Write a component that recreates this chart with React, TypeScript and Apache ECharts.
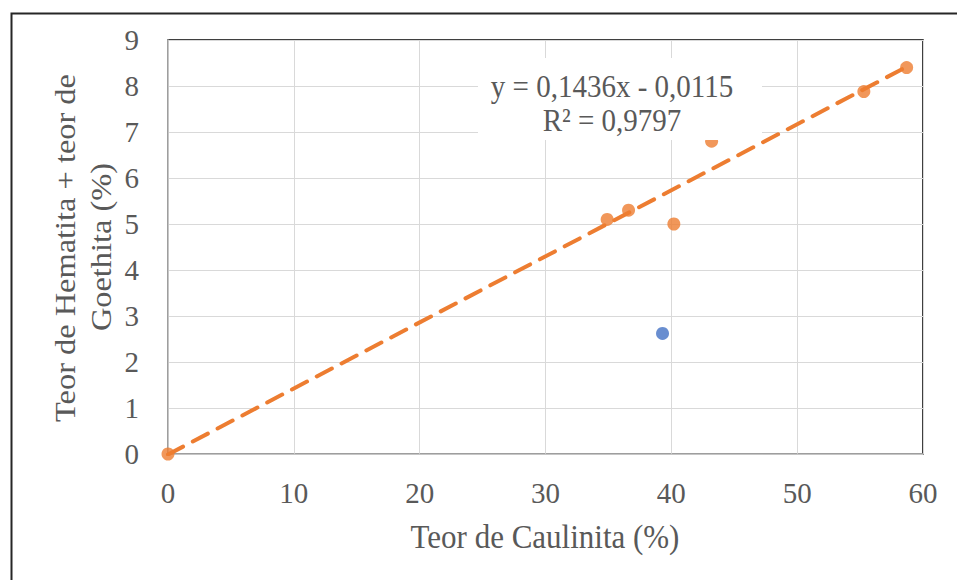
import React, { useEffect, useRef } from "react";
import * as echarts from "echarts";

const orangeX = [0, 34.9, 36.6, 40.2, 43.2, 55.3, 58.7];
const orangeY = [0, 5.1, 5.3, 5.0, 6.8, 7.88, 8.4];
const blueX = [39.3];
const blueY = [2.62];
const trendSlope = 0.1436;
const trendIntercept = -0.0115;
const trendRange = [0, 58.7];
const eqLines = ["y = 0,1436x - 0,0115", "R² = 0,9797"];
const xTitle = "Teor de Caulinita (%)";
const yTitleLines = ["Teor de Hematita + teor de", "Goethita (%)"];

const FONT = "'Liberation Serif', 'Times New Roman', serif";
const GREY = "#595959";

export default function App() {
  const ref = useRef<HTMLDivElement>(null);
  useEffect(() => {
    const chart = echarts.init(ref.current!, null, { renderer: "svg" });
    const orange = orangeX.map((x, i) => [x, orangeY[i]]);
    const blue = blueX.map((x, i) => [x, blueY[i]]);
    const trend = trendRange.map((x) => [x, trendSlope * x + trendIntercept]);
    const txt = (text: string, x: number, y: number, size: number, rot = 0) => ({
      type: "text",
      x,
      y,
      rotation: rot,
      scaleY: rot ? 1 : 1.08,
      scaleX: rot ? 1.08 : 1,
      z: 51,
      style: {
        text,
        fontFamily: FONT,
        fontSize: size,
        fill: GREY,
        align: "center",
        verticalAlign: "middle",
      },
    });
    chart.setOption({
      animation: false,
      backgroundColor: "#fff",
      grid: {
        left: 168,
        top: 40,
        width: 755,
        height: 414,
        show: true,
        borderColor: "#000",
        borderWidth: 1.5,
        backgroundColor: "transparent",
      },
      xAxis: {
        type: "value",
        min: 0,
        max: 60,
        interval: 10,
        axisLine: { show: true, lineStyle: { color: "#bfbfbf", width: 1.5 } },
        axisTick: { show: false },
        axisLabel: { fontFamily: FONT, fontSize: 29, color: GREY, margin: 24 },
        splitLine: { show: true, lineStyle: { color: "#d9d9d9", width: 1 } },
      },
      yAxis: {
        type: "value",
        min: 0,
        max: 9,
        interval: 1,
        axisLine: { show: true, lineStyle: { color: "#bfbfbf", width: 1.5 } },
        axisTick: { show: false },
        axisLabel: { fontFamily: FONT, fontSize: 29, color: GREY, margin: 29 },
        splitLine: { show: true, lineStyle: { color: "#d9d9d9", width: 1 } },
      },
      series: [
        {
          type: "line",
          data: trend,
          symbol: "none",
          z: 2,
          lineStyle: { color: "#ED7D31", width: 4, type: [17, 11], cap: "round" },
        },
        {
          type: "scatter",
          data: orange,
          symbolSize: 13,
          z: 3,
          itemStyle: { color: "#ED7D31" },
        },
        {
          type: "scatter",
          data: blue,
          symbolSize: 13,
          z: 3,
          itemStyle: { color: "#4472C4" },
        },
      ],
      graphic: [
        {
          type: "rect",
          left: 9,
          top: 11,
          shape: { width: 1200, height: 1200 },
          style: { fill: "none", stroke: "#262626", lineWidth: 2 },
          z: 100,
          silent: true,
        },
        {
          type: "rect",
          shape: { x: 478, y: 58, width: 284, height: 82 },
          style: { fill: "#fff" },
          z: 50,
        },
        txt(eqLines[0], 612, 87, 29),
        txt(eqLines[1], 612, 121, 29),
        txt(xTitle, 545, 537, 31),
        txt(yTitleLines[0], 65, 248, 30, Math.PI / 2),
        txt(yTitleLines[1], 101, 247, 30, Math.PI / 2),
      ],
    });
    return () => chart.dispose();
  }, []);
  return (
    <div
      ref={ref}
      style={{ position: "absolute", left: 0, top: 0, width: 957, height: 580 }}
    />
  );
}
